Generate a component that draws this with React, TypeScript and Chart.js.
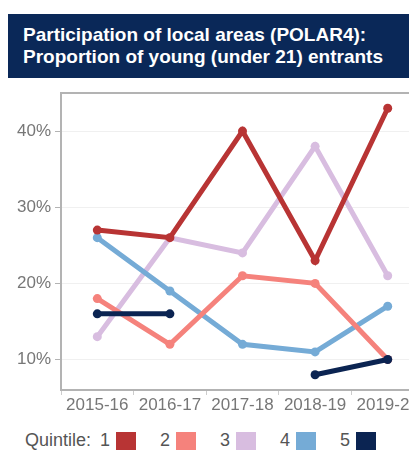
import React, { useEffect, useRef } from "react";
import { Chart, registerables } from "chart.js";

Chart.register(...registerables);

const categories = ["2015-16", "2016-17", "2017-18", "2018-19", "2019-20"];
const quintile1 = [27, 26, 40, 23, 43];
const quintile2 = [18, 12, 21, 20, 10];
const quintile3 = [13, 26, 24, 38, 21];
const quintile4 = [26, 19, 12, 11, 17];
const quintile5: (number | null)[] = [16, 16, null, 8, 10];
const yTicks = [10, 20, 30, 40];
const legendLabels = ["1", "2", "3", "4", "5"];
const colors = ["#b83434", "#f5827c", "#d8bde0", "#75abd6", "#0b2452"];

const FONT = "'Liberation Sans', Arial, sans-serif";

const borderPlugin = {
  id: "areaBorder",
  afterDraw(chart: any) {
    const { ctx, chartArea } = chart;
    ctx.save();
    ctx.strokeStyle = "#b3b3b3";
    ctx.lineWidth = 2;
    ctx.strokeRect(chartArea.left, chartArea.top, chartArea.right - chartArea.left, chartArea.bottom - chartArea.top);
    ctx.restore();
  },
};

export default function App() {
  const ref = useRef<HTMLCanvasElement | null>(null);

  useEffect(() => {
    document.body.style.overflow = "hidden";
    document.documentElement.style.overflow = "hidden";
    const series = [quintile1, quintile2, quintile3, quintile4, quintile5];
    const orders = [1, 3, 5, 4, 2];
    const chart = new Chart(ref.current as HTMLCanvasElement, {
      type: "line",
      data: {
        labels: categories,
        datasets: series.map((d, i) => ({
          label: legendLabels[i],
          data: d,
          borderColor: colors[i],
          backgroundColor: colors[i],
          borderWidth: 5,
          pointRadius: 4.5,
          pointHoverRadius: 4.5,
          pointBorderWidth: 0,
          spanGaps: false,
          tension: 0,
          order: orders[i],
        })),
      },
      options: {
        responsive: false,
        animation: false,
        layout: { padding: { top: 15, right: 14, bottom: 3, left: 0 } },
        plugins: { legend: { display: false }, tooltip: { enabled: false } },
        scales: {
          x: {
            offset: true,
            grid: { offset: true, drawOnChartArea: false, tickLength: 5, tickColor: "#cccccc" },
            border: { display: false },
            ticks: { color: "#777777", font: { family: FONT, size: 17 }, padding: 0, maxRotation: 0, autoSkip: false },
            afterFit(scale: any) {
              scale.height = 30;
            },
          },
          y: {
            min: 6,
            max: 45,
            grid: { color: "#f0f0f0", lineWidth: 1, tickLength: 6, tickColor: "#b3b3b3" },
            border: { display: false },
            ticks: {
              color: "#777777",
              font: { family: FONT, size: 17 },
              padding: 4,
              callback: (v: any) => v + "%",
            },
            afterBuildTicks(scale: any) {
              scale.ticks = yTicks.map((v) => ({ value: v }));
            },
            afterFit(scale: any) {
              scale.width = 53;
            },
          },
        },
      },
      plugins: [borderPlugin],
    });
    return () => chart.destroy();
  }, []);

  return (
    <div style={{ width: 409, overflow: "hidden", marginTop: 6, fontFamily: FONT }}>
      <div
        style={{
          background: "#0a2858",
          color: "#ffffff",
          height: 64,
          boxSizing: "border-box",
          padding: "10px 0 0 15px",
          fontWeight: "bold",
          fontSize: 19,
          lineHeight: "22px",
          whiteSpace: "nowrap",
        }}
      >
        <div>Participation of local areas (POLAR4):</div>
        <div>Proportion of young (under 21) entrants</div>
      </div>
      <canvas ref={ref} width={430} height={345} style={{ display: "block" }} />
      <div style={{ position: "relative", height: 40, color: "#555555", fontSize: 18 }}>
        <span style={{ position: "absolute", left: 17, top: 7, lineHeight: "20px" }}>Quintile:</span>
        {legendLabels.map((l, i) => (
          <div key={l} style={{ position: "absolute", left: 88 + i * 60, top: 7, display: "flex", alignItems: "flex-start" }}>
            <span style={{ lineHeight: "20px", width: 14, textAlign: "right" }}>{l}</span>
            <span style={{ display: "inline-block", width: 20, height: 20, background: colors[i], marginLeft: 6, marginTop: 2 }} />
          </div>
        ))}
      </div>
    </div>
  );
}
